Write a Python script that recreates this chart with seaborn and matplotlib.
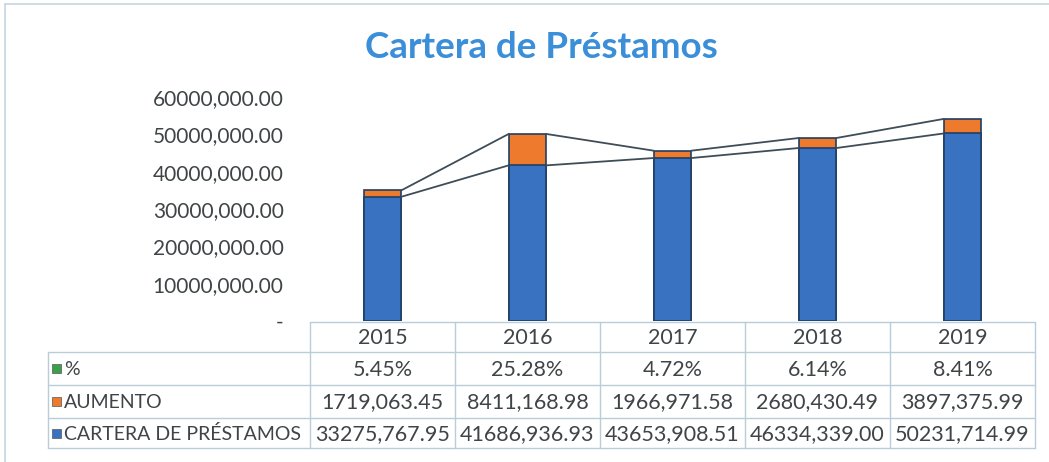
import matplotlib
matplotlib.use("Agg")
import matplotlib.pyplot as plt
import seaborn as sns
import pandas as pd
from matplotlib.lines import Line2D
from matplotlib.patches import Rectangle

years = ["2015", "2016", "2017", "2018", "2019"]
cartera = [33275767.95, 41686936.93, 43653908.51, 46334339.00, 50231714.99]
aumento = [1719063.45, 8411168.98, 1966971.58, 2680430.49, 3897375.99]
porcentaje = [5.45, 25.28, 4.72, 6.14, 8.41]
yticks = [0, 10000000, 20000000, 30000000, 40000000, 50000000, 60000000]
title = "Cartera de Préstamos"
row_labels = ["%", "AUMENTO", "CARTERA DE PRÉSTAMOS"]

BLUE = "#3a72c2"
BLUE_EDGE = "#1f3f66"
ORANGE = "#ee7a2e"
GREEN = "#3aa04a"
TEXT = "#3f4446"
GRID = "#b9cdd9"
LINE = "#3e4d57"
FONT = ["Lato", "DejaVu Sans"]

W, H = 1049, 462
sns.set_theme(style="white")
plt.rcParams["font.family"] = FONT

df = pd.DataFrame({"year": years, "cartera": cartera, "aumento": aumento})
df["total"] = df["cartera"] + df["aumento"]

fig = plt.figure(figsize=(W / 100, H / 100), dpi=100)
fig.patch.set_facecolor("white")

def fx(px):
    return px / W

def fy(py):
    return 1 - py / H

ax_l, ax_r, ax_t, ax_b = 310, 1035, 97, 321
ax = fig.add_axes([fx(ax_l), fy(ax_b), fx(ax_r - ax_l), (ax_b - ax_t) / H])

bw = 0.26
sns.barplot(data=df, x="year", y="total", color=ORANGE, width=bw, ax=ax,
            edgecolor=BLUE_EDGE, linewidth=1.2, saturation=1)
sns.barplot(data=df, x="year", y="cartera", color=BLUE, width=bw, ax=ax,
            edgecolor=BLUE_EDGE, linewidth=1.2, saturation=1)

# series lines
for vals in (df["cartera"].values, df["total"].values):
    for i in range(len(years) - 1):
        ax.plot([i + bw / 2, i + 1 - bw / 2], [vals[i], vals[i + 1]],
                color=LINE, lw=1.3, zorder=1)

ax.set_xlim(-0.5, len(years) - 0.5)
ax.set_ylim(0, 60000000)
ax.set_yticks(yticks)

def fmt(v):
    if v == 0:
        return "-"
    whole = int(v)
    cents = int(round((v - whole) * 100))
    return f"{whole // 1000},{whole % 1000:03d}.{cents:02d}"

ax.set_yticklabels([fmt(v) for v in yticks], fontsize=15, color=TEXT)
ax.tick_params(axis="y", length=0, pad=19)
ax.set_xticks([])
ax.set_xlabel("")
ax.set_ylabel("")
for s in ax.spines.values():
    s.set_visible(False)

# title
fig.text(fx(541), fy(47), title, ha="center", va="center", fontsize=26.5,
         fontweight="bold", color="#3b8ed8", family=FONT)

# chart frame (left and top edges)
fig.add_artist(Line2D([fx(5), fx(5)], [fy(4), fy(462)], color="#c5d6e2", lw=1.2))
fig.add_artist(Line2D([fx(5), fx(1049)], [fy(4), fy(4)], color="#c5d6e2", lw=1.2))

# data table
col_edges = [310 + 145 * i for i in range(len(years) + 1)]
row_edges = [322, 352, 385, 418, 448]
tbl_left = 48
for i, xe in enumerate(col_edges):
    fig.add_artist(Line2D([fx(xe), fx(xe)], [fy(row_edges[0]), fy(row_edges[-1])],
                          color=GRID, lw=1))
fig.add_artist(Line2D([fx(tbl_left), fx(tbl_left)], [fy(row_edges[1]), fy(row_edges[-1])],
                      color=GRID, lw=1))
fig.add_artist(Line2D([fx(col_edges[0]), fx(col_edges[-1])], [fy(row_edges[0]), fy(row_edges[0])],
                      color=GRID, lw=1))
for ye in row_edges[1:]:
    fig.add_artist(Line2D([fx(tbl_left), fx(col_edges[-1])], [fy(ye), fy(ye)],
                          color=GRID, lw=1))

rows = [
    [f"{p:.2f}%" for p in porcentaje],
    [fmt(v) for v in aumento],
    [fmt(v) for v in cartera],
]
fs = 15.5
for j, y in enumerate(years):
    cx = (col_edges[j] + col_edges[j + 1]) / 2
    fig.text(fx(cx), fy((row_edges[0] + row_edges[1]) / 2 + 1), y, ha="center",
             va="center", fontsize=fs, color=TEXT)
    for r in range(3):
        cy = (row_edges[r + 1] + row_edges[r + 2]) / 2 + 1
        fig.text(fx(cx), fy(cy), rows[r][j], ha="center", va="center",
                 fontsize=fs, color=TEXT)

key_colors = [GREEN, ORANGE, BLUE]
for r in range(3):
    cy = (row_edges[r + 1] + row_edges[r + 2]) / 2
    fig.add_artist(Rectangle((fx(52), fy(cy + 4.5)), fx(9), 9 / H,
                             facecolor=key_colors[r], edgecolor="#555555", lw=0.5))
    fig.text(fx(64), fy(cy + 1), row_labels[r], ha="left", va="center",
             fontsize=14, color=TEXT)

fig.savefig("out.png", dpi=100, facecolor="white")
